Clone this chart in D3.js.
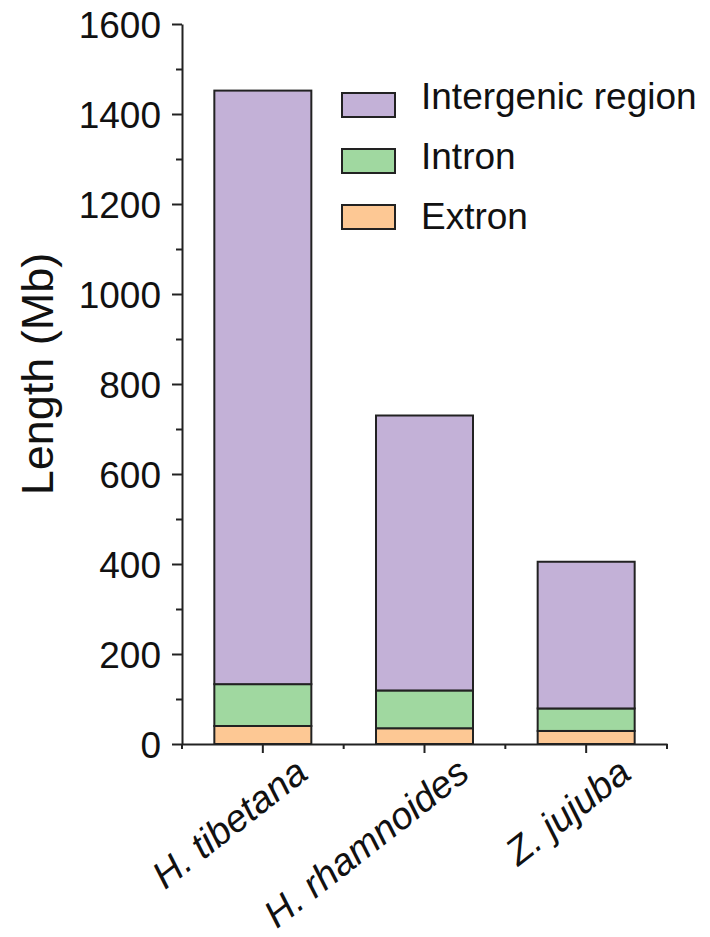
<!DOCTYPE html>
<html>
<head>
<meta charset="utf-8">
<script src="https://cdn.jsdelivr.net/npm/d3@7"></script>
<style>
  body { margin: 0; background: #fff; }
  text { font-family: "Liberation Sans", Arial, sans-serif; fill: #111; }
</style>
</head>
<body>
<svg id="chart" width="710" height="937"></svg>
<script>
// values (Mb)
let species = ["H. tibetana", "H. rhamnoides", "Z. jujuba"]
let extron = [40, 35, 29]
let intron = [93, 84, 50]
let intergenic = [1319, 611, 326]
let yTicks = [0, 200, 400, 600, 800, 1000, 1200, 1400, 1600]
let legendNames = ["Intergenic region", "Intron", "Extron"]

let keys = ["extron", "intron", "intergenic"]
let colors = { extron: "#fdc894", intron: "#a0d8a0", intergenic: "#c3b1d7" }

let rows = species.map((s, i) => {
    return { name: s, extron: extron[i], intron: intron[i], intergenic: intergenic[i] }
})

let svg = d3.select("#chart")
let m = { left: 182, top: 24 }
let w = 485
let h = 720

let g = svg.append("g").attr("transform", "translate(" + m.left + "," + m.top + ")")

let x = d3.scaleBand().range([0, w]).domain(species).paddingInner(0.4).paddingOuter(0.2)
let y = d3.scaleLinear().range([h, 0]).domain([0, 1600])

let series = d3.stack().keys(keys)(rows)

// bars
g.selectAll("g.layer")
    .data(series)
    .enter().append("g")
    .attr("class", "layer")
    .attr("fill", (d) => colors[d.key])
    .selectAll("rect")
    .data((d) => d)
    .enter().append("rect")
    .attr("x", (d) => x(d.data.name))
    .attr("y", (d) => y(d[1]))
    .attr("width", x.bandwidth())
    .attr("height", (d) => y(d[0]) - y(d[1]))
    .attr("stroke", "#222")
    .attr("stroke-width", 2)

// y axis, major + minor ticks
let yMinor = d3.range(100, 1600, 200)
g.append("g")
    .call(d3.axisLeft(y).tickValues(yMinor).tickSize(6).tickFormat(""))
    .call((a) => a.select(".domain").remove())
    .selectAll("line").attr("stroke", "#222").attr("stroke-width", 2)

let yAxis = g.append("g")
    .call(d3.axisLeft(y).tickValues(yTicks).tickSize(10).tickSizeOuter(0).tickPadding(11).tickFormat(d3.format("d")))
yAxis.select(".domain").attr("stroke", "#222").attr("stroke-width", 2)
yAxis.selectAll("line").attr("stroke", "#222").attr("stroke-width", 2)
yAxis.selectAll("text")
    .attr("font-size", "37px")
    .attr("font-family", "Liberation Sans, Arial, sans-serif")
    .attr("fill", "#111")
    .attr("dy", "0.36em")

// x axis
let bounds = species.map((s) => x(s) - x.step() * 0.2).concat([w])
g.append("g")
    .attr("transform", "translate(0," + h + ")")
    .selectAll("line")
    .data(bounds)
    .enter().append("line")
    .attr("x1", (d) => d).attr("x2", (d) => d)
    .attr("y1", 0).attr("y2", 5)
    .attr("stroke", "#222").attr("stroke-width", 2)

let xAxis = g.append("g")
    .attr("transform", "translate(0," + h + ")")
    .call(d3.axisBottom(x).tickSize(9).tickSizeOuter(0))
xAxis.select(".domain").attr("stroke", "#222").attr("stroke-width", 2)
xAxis.selectAll("line").attr("stroke", "#222").attr("stroke-width", 2)
xAxis.selectAll("text")
    .attr("font-size", "38px")
    .attr("font-style", "italic")
    .attr("font-family", "Liberation Sans, Arial, sans-serif")
    .attr("fill", "#111")
    .attr("text-anchor", "end")
    .attr("x", 0).attr("y", 0).attr("dy", 0)
    .attr("transform", "translate(47,33) rotate(-38)")

// y label
svg.append("text")
    .text("Length (Mb)")
    .attr("font-size", "45px")
    .attr("text-anchor", "middle")
    .attr("transform", "translate(53,374) rotate(-90)")

// legend
let legend = svg.append("g").attr("transform", "translate(342,93)")
let lg = legend.selectAll("g")
    .data(legendNames)
    .enter().append("g")
lg.append("rect")
    .attr("x", 0)
    .attr("y", (d, i) => i * 56)
    .attr("width", 53)
    .attr("height", 24)
    .attr("fill", (d, i) => colors[keys[2 - i]])
    .attr("stroke", "#222")
    .attr("stroke-width", 2)
lg.append("text")
    .text((d) => d)
    .attr("x", 79)
    .attr("y", (d, i) => 16 + i * 60)
    .attr("font-size", "37px")
</script>
</body>
</html>
